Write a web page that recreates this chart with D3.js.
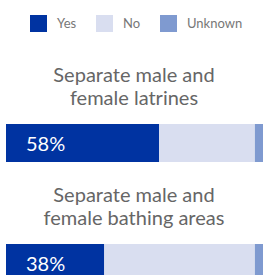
<!DOCTYPE html>
<html>
<head>
<meta charset="utf-8">
<style>
    body { margin: 0; background: #fff; }
    svg { display: block; font-family: Lato, 'Open Sans', sans-serif; }
    .legend text { fill: #777; font-size: 13px; }
    .title { fill: #666; font-size: 20px; text-anchor: middle; }
    .pct { fill: #fff; font-size: 20px; }
</style>
</head>
<body>
<svg width="263" height="275"></svg>
<script src="https://d3js.org/d3.v7.min.js"></script>
<script>
    let categories = ["Separate male and\nfemale latrines", "Separate male and\nfemale bathing areas"];
    let keys = ["Yes", "No", "Unknown"];
    let yesValues = [58.4, 37.5];
    let noValues = [36.6, 57.5];
    let unknownValues = [5, 5];
    let colors = ["#0033A1", "#D9DEF0", "#7F9AD0"];

    let svg = d3.select("svg");

    let data = categories.map((c, i) => ({
        name: c,
        Yes: yesValues[i],
        No: noValues[i],
        Unknown: unknownValues[i]
    }));

    let series = d3.stack().keys(keys)(data);

    let color = d3.scaleOrdinal().domain(keys).range(colors);

    let x = d3.scaleLinear()
        .domain([0, 100])
        .range([6, 268]);

    // each chart block: title (2 lines) then bar
    let blockTop = d3.scaleBand()
        .domain(categories)
        .range([55, 295]);

    let barOffset = 69;
    let barHeight = 38;

    // legend
    let legend = svg.append("g").attr("class", "legend");
    let legendX = [30, 96, 160];
    keys.forEach((k, i) => {
        legend.append("rect")
            .attr("x", legendX[i])
            .attr("y", 15)
            .attr("width", 17)
            .attr("height", 17)
            .attr("fill", color(k));
        legend.append("text")
            .attr("x", legendX[i] + 27)
            .attr("y", 28)
            .text(k);
    });

    // titles
    categories.forEach(c => {
        let t = svg.append("text")
            .attr("class", "title")
            .attr("x", 134)
            .attr("y", blockTop(c) + 27);
        c.split("\n").forEach((line, j) => {
            t.append("tspan")
                .attr("x", 134)
                .attr("dy", j == 0 ? 0 : 23)
                .text(line);
        });
    });

    // bars
    svg.append("g")
        .selectAll("g")
        .data(series)
        .join("g")
        .attr("fill", d => color(d.key))
        .selectAll("rect")
        .data(d => d)
        .join("rect")
        .attr("x", d => x(d[0]))
        .attr("y", d => blockTop(d.data.name) + barOffset)
        .attr("width", d => x(d[1]) - x(d[0]))
        .attr("height", barHeight);

    // percent labels
    svg.append("g")
        .selectAll("text")
        .data(data)
        .join("text")
        .attr("class", "pct")
        .attr("x", 26)
        .attr("y", d => blockTop(d.name) + barOffset + 27)
        .text(d => Math.round(d.Yes) + "%");
</script>
</body>
</html>
